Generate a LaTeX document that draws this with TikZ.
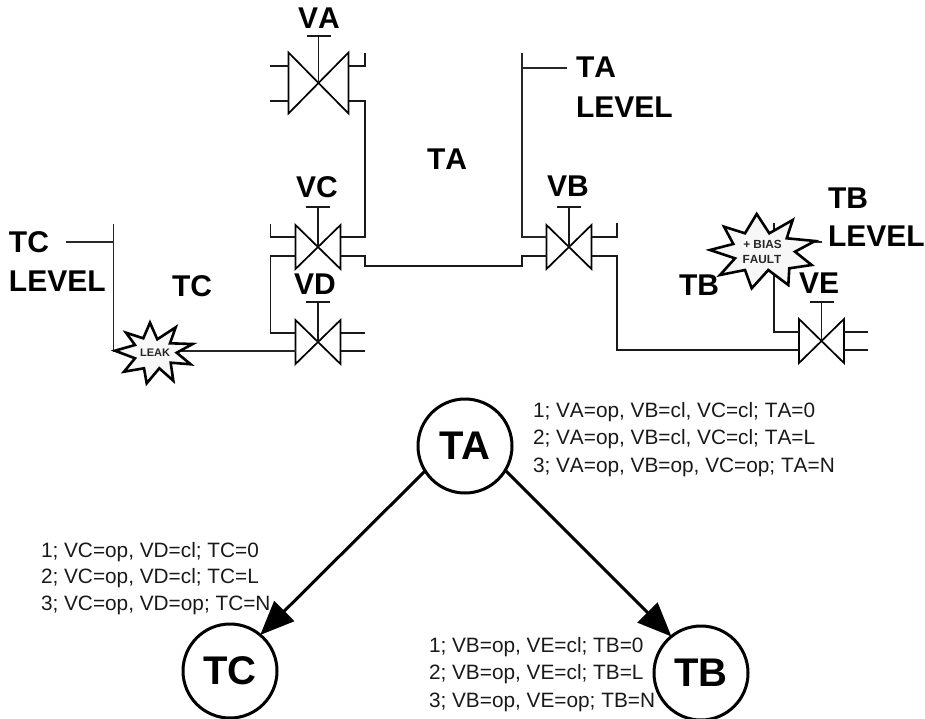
\documentclass[tikz,border=0pt]{standalone}
\usepackage{fontspec}
\setmainfont[Kerning=Off]{Liberation Sans}
\usetikzlibrary{arrows.meta}
\tikzset{
  pipe/.style={line width=1.6pt,draw=black!90},
  thinpipe/.style={line width=1.1pt,draw=black!85},
  bowtie/.style={line width=1.7pt,draw=black,line join=miter},
  big/.style={font=\bfseries\fontsize{30}{30}\selectfont,inner sep=0pt,outer sep=0pt},
  state/.style={circle,draw=black,line width=3pt,fill=white,minimum size=94pt,inner sep=0pt,outer sep=0pt,font=\addfontfeature{Kerning=On}\bfseries\fontsize{40}{40}\selectfont},
  cond/.style={font=\fontsize{20.8}{20.8}\selectfont,inner sep=0pt,outer sep=0pt,anchor=base west,text=black!90},
  startext/.style={font=\bfseries\fontsize{11.8}{11.8}\selectfont,inner sep=0pt,outer sep=0pt,text=black!85},
  star/.style={draw=black,line width=2.6pt,fill=black!3,line join=miter,miter limit=10},
  flow/.style={line width=3pt,-{Triangle[length=34pt,width=28pt]},draw=black,shorten >=0pt}
}
% cx, cy, half-width, half-height, stem top
\newcommand{\bowvalve}[5]{%
  \draw[bowtie] (#1-#3,#2-#4) -- (#1+#3,#2+#4) -- (#1+#3,#2-#4) -- (#1-#3,#2+#4) -- cycle;
  \draw[pipe] (#1,#2) -- (#1,#5);
  \draw[pipe] (#1-12,#5) -- (#1+12,#5);
}
\begin{document}
\begin{tikzpicture}[x=1pt,y=-1pt]
\useasboundingbox (0,0) rectangle (925,719);

% valves
\bowvalve{318.5}{83}{30}{30.5}{36}
\bowvalve{318}{247}{22.5}{22}{207}
\bowvalve{318}{342}{22.5}{22}{302}
\bowvalve{569}{247}{22.5}{22}{207}
\bowvalve{821.5}{341}{22.5}{22}{302}

% VA pipes
\draw[pipe] (270,66) -- (288.5,66);
\draw[pipe] (270,101) -- (288.5,101);
\draw[pipe] (348.5,66) -- (365,66) -- (365,53);
\draw[pipe] (348.5,101) -- (365,101) -- (365,237) -- (340.5,237);
% VC pipes
\draw[pipe] (295.5,237) -- (270.5,237) -- (270.5,224);
\draw[pipe] (295.5,256) -- (270.5,256) -- (270.5,333) -- (295.5,333);
\draw[pipe] (340.5,256) -- (365,256) -- (365,266) -- (522,266) -- (522,256) -- (546.5,256);
% VD pipes
\draw[pipe] (340.5,333) -- (365,333);
\draw[pipe] (340.5,351) -- (365,351);
% TC tank
\draw[thinpipe] (113.5,224) -- (113.5,351) -- (295.5,351);
\draw[thinpipe] (66,242) -- (113.5,242);
% TA level
\draw[thinpipe] (522,53) -- (522,237) -- (546.5,237);
\draw[thinpipe] (522,68) -- (567,68);
% VB pipes
\draw[pipe] (591.5,237) -- (617,237) -- (617,223);
\draw[pipe] (591.5,256) -- (617,256) -- (617,350) -- (799,350);
% VE pipes
\draw[pipe] (799,332) -- (774,332) -- (774,223);
\draw[thinpipe] (774,242) -- (822,242);
\draw[pipe] (844,332) -- (868,332);
\draw[pipe] (844,350) -- (868,350);

% stars
\draw[star] (150,322.7) -- (157.3,339.3) -- (175.7,327.3) -- (170,343.3) -- (192.7,344) -- (176.7,352.7) -- (190.7,364.3) -- (170.7,362.7) -- (173.3,380.7) -- (159.3,368.3) -- (146.7,383.3) -- (144,368.3) -- (124,371.7) -- (135,358.3) -- (115,350.7) -- (135,345) -- (126,332.7) -- (143.3,338.3) -- cycle;
\node[startext,font=\bfseries\fontsize{11}{11}\selectfont] (leak) at (155,352.5) {LEAK};
\draw[star] (756.7,214) -- (769.3,233.3) -- (792.7,220) -- (786.7,238.3) -- (815,241) -- (795,251.7) -- (811.7,265) -- (789.3,268.3) -- (788.3,285) -- (768.3,270) -- (751.7,288.3) -- (745,270) -- (720,275) -- (735,258.3) -- (710,250) -- (733.3,244) -- (724,226.7) -- (745,233.3) -- cycle;
\node[startext] (bias) at (762.5,244) {+ BIAS};
\node[startext] (fault) at (762,259.5) {FAULT};

% plant labels
\node[big,anchor=base] (lva) at (319,29) {VA};
\node[big,anchor=base] (lta) at (447,170) {TA};
\node[big,anchor=base] (lvc) at (317,198) {VC};
\node[big,anchor=base] (lvd) at (315,294) {VD};
\node[big,anchor=base] (lvb) at (568,197) {VB};
\node[big,anchor=base] (lve) at (819,293) {VE};
\node[big,anchor=base] (ltc) at (192,296) {TC};
\node[big,anchor=base west] (ltb) at (679,295) {TB};
\node[big,anchor=base west] (tcl1) at (9,252) {TC};
\node[big,anchor=base west] (tcl2) at (9,291) {LEVEL};
\node[big,anchor=base west] (tal1) at (576,78) {TA};
\node[big,anchor=base west] (tal2) at (576,118) {LEVEL};
\node[big,anchor=base west] (tbl1) at (828,208) {TB};
\node[big,anchor=base west] (tbl2) at (828,247) {LEVEL};

% state graph
\node[state] (ta) at (465,446) {TA};
\node[state] (tc) at (230,671) {TC};
\node[state] (tb) at (701,673) {TB};
\draw[flow] (ta.212) -- (tc.50);
\draw[flow] (ta.329) -- (tb.129);

% conditions
\node[cond] (a1) at (533,417) {1; VA=op, VB=cl, VC=cl; TA=0};
\node[cond] (a2) at (533,444) {2; VA=op, VB=cl, VC=cl; TA=L};
\node[cond] (a3) at (533,472) {3; VA=op, VB=op, VC=op; TA=N};
\node[cond] (c1) at (41,557) {1; VC=op, VD=cl; TC=0};
\node[cond] (c2) at (41,583) {2; VC=op, VD=cl; TC=L};
\node[cond] (c3) at (41,610) {3; VC=op, VD=op; TC=N};
\node[cond] (b1) at (429,652) {1; VB=op, VE=cl; TB=0};
\node[cond] (b2) at (429,679) {2; VB=op, VE=cl; TB=L};
\node[cond] (b3) at (429,707) {3; VB=op, VE=op; TB=N};
\end{tikzpicture}
\end{document}
